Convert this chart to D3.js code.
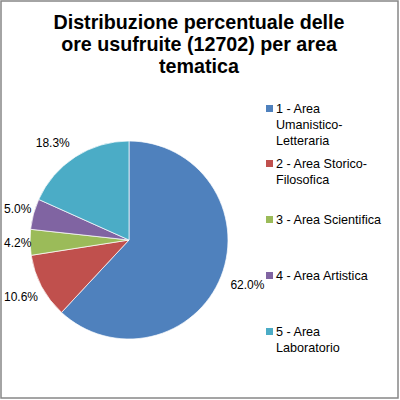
<!doctype html>
<html>
<head>
  <script src="https://d3js.org/d3.v7.min.js"></script>
  <style>
    body { margin: 0; background: #fff; }
    text { font-family: 'Liberation Sans', Arial, sans-serif; }
  </style>
</head>
<body>
  <svg width="400" height="400"></svg>
  <script>
    // dati
    var categories = ["1 - Area Umanistico-Letteraria", "2 - Area Storico-Filosofica",
      "3 - Area Scientifica", "4 - Area Artistica", "5 - Area Laboratorio"];
    var legendLines = [["1 - Area", "Umanistico-", "Letteraria"], ["2 - Area Storico-", "Filosofica"],
      ["3 - Area Scientifica"], ["4 - Area Artistica"], ["5 - Area", "Laboratorio"]];
    var values = [62.0, 10.6, 4.2, 5.0, 18.3];
    var colors = ["#4F81BD", "#C0504D", "#9BBB59", "#8064A2", "#4BACC6"];
    var titleLines = ["Distribuzione percentuale delle", "ore usufruite (12702) per area", "tematica"];

    var svg = d3.select("svg");

    svg.append("rect")
      .attr("x", 1).attr("y", 1).attr("width", 397).attr("height", 397)
      .attr("fill", "#fff").attr("stroke", "#878787").attr("stroke-width", 1.5);

    svg.append("g").selectAll("text")
      .data(titleLines)
      .enter()
      .append("text")
      .attr("x", 199)
      .attr("y", (d, i) => 29 + i * 22)
      .attr("text-anchor", "middle")
      .style("font-size", "19.7px")
      .style("font-weight", "bold")
      .text(d => d);

    var cx = 129, cy = 240, r = 99;
    var pie = d3.pie().sort(null).value(d => d);
    var arc = d3.arc().innerRadius(0).outerRadius(r);
    var arcs = pie(values);

    var g = svg.append("g").attr("transform", "translate(" + cx + "," + cy + ")");
    g.selectAll("path")
      .data(arcs)
      .enter()
      .append("path")
      .attr("d", arc)
      .attr("fill", (d, i) => colors[i])
      .attr("stroke", "#fff")
      .attr("stroke-width", 0.7);

    var clamp = v => Math.max(-1, Math.min(1, v * 2));

    // etichette fuori dalla torta
    g.selectAll("text")
      .data(arcs)
      .enter()
      .append("text")
      .style("font-size", "12px")
      .attr("text-anchor", "middle")
      .attr("dy", "0.35em")
      .text(d => d3.format(".1f")(d.data) + "%")
      .each(function (d) {
        var a = (d.startAngle + d.endAngle) / 2;
        var ux = Math.sin(a), uy = -Math.cos(a);
        var w = this.getComputedTextLength(), h = 12;
        var px = ux * (r + 10) + clamp(ux) * w / 2;
        var py = uy * (r + 10) + clamp(uy) * h / 2;
        var left = cx + px - w / 2;
        if (left < 4) px += 4 - left;
        d3.select(this).attr("x", px).attr("y", py);
      });

    var legend = svg.append("g").selectAll("g")
      .data(categories)
      .enter()
      .append("g")
      .attr("transform", (d, i) => "translate(266," + [113, 168, 224, 280, 336][i] + ")");

    legend.append("rect")
      .attr("x", 0).attr("y", -8).attr("width", 7).attr("height", 7)
      .attr("fill", (d, i) => colors[i]);

    legend.each(function (d, i) {
      d3.select(this).selectAll("text")
        .data(legendLines[i])
        .enter()
        .append("text")
        .attr("x", 10)
        .attr("y", (t, j) => j * 16)
        .style("font-size", "12.6px")
        .text(t => t);
    });
  </script>
</body>
</html>
